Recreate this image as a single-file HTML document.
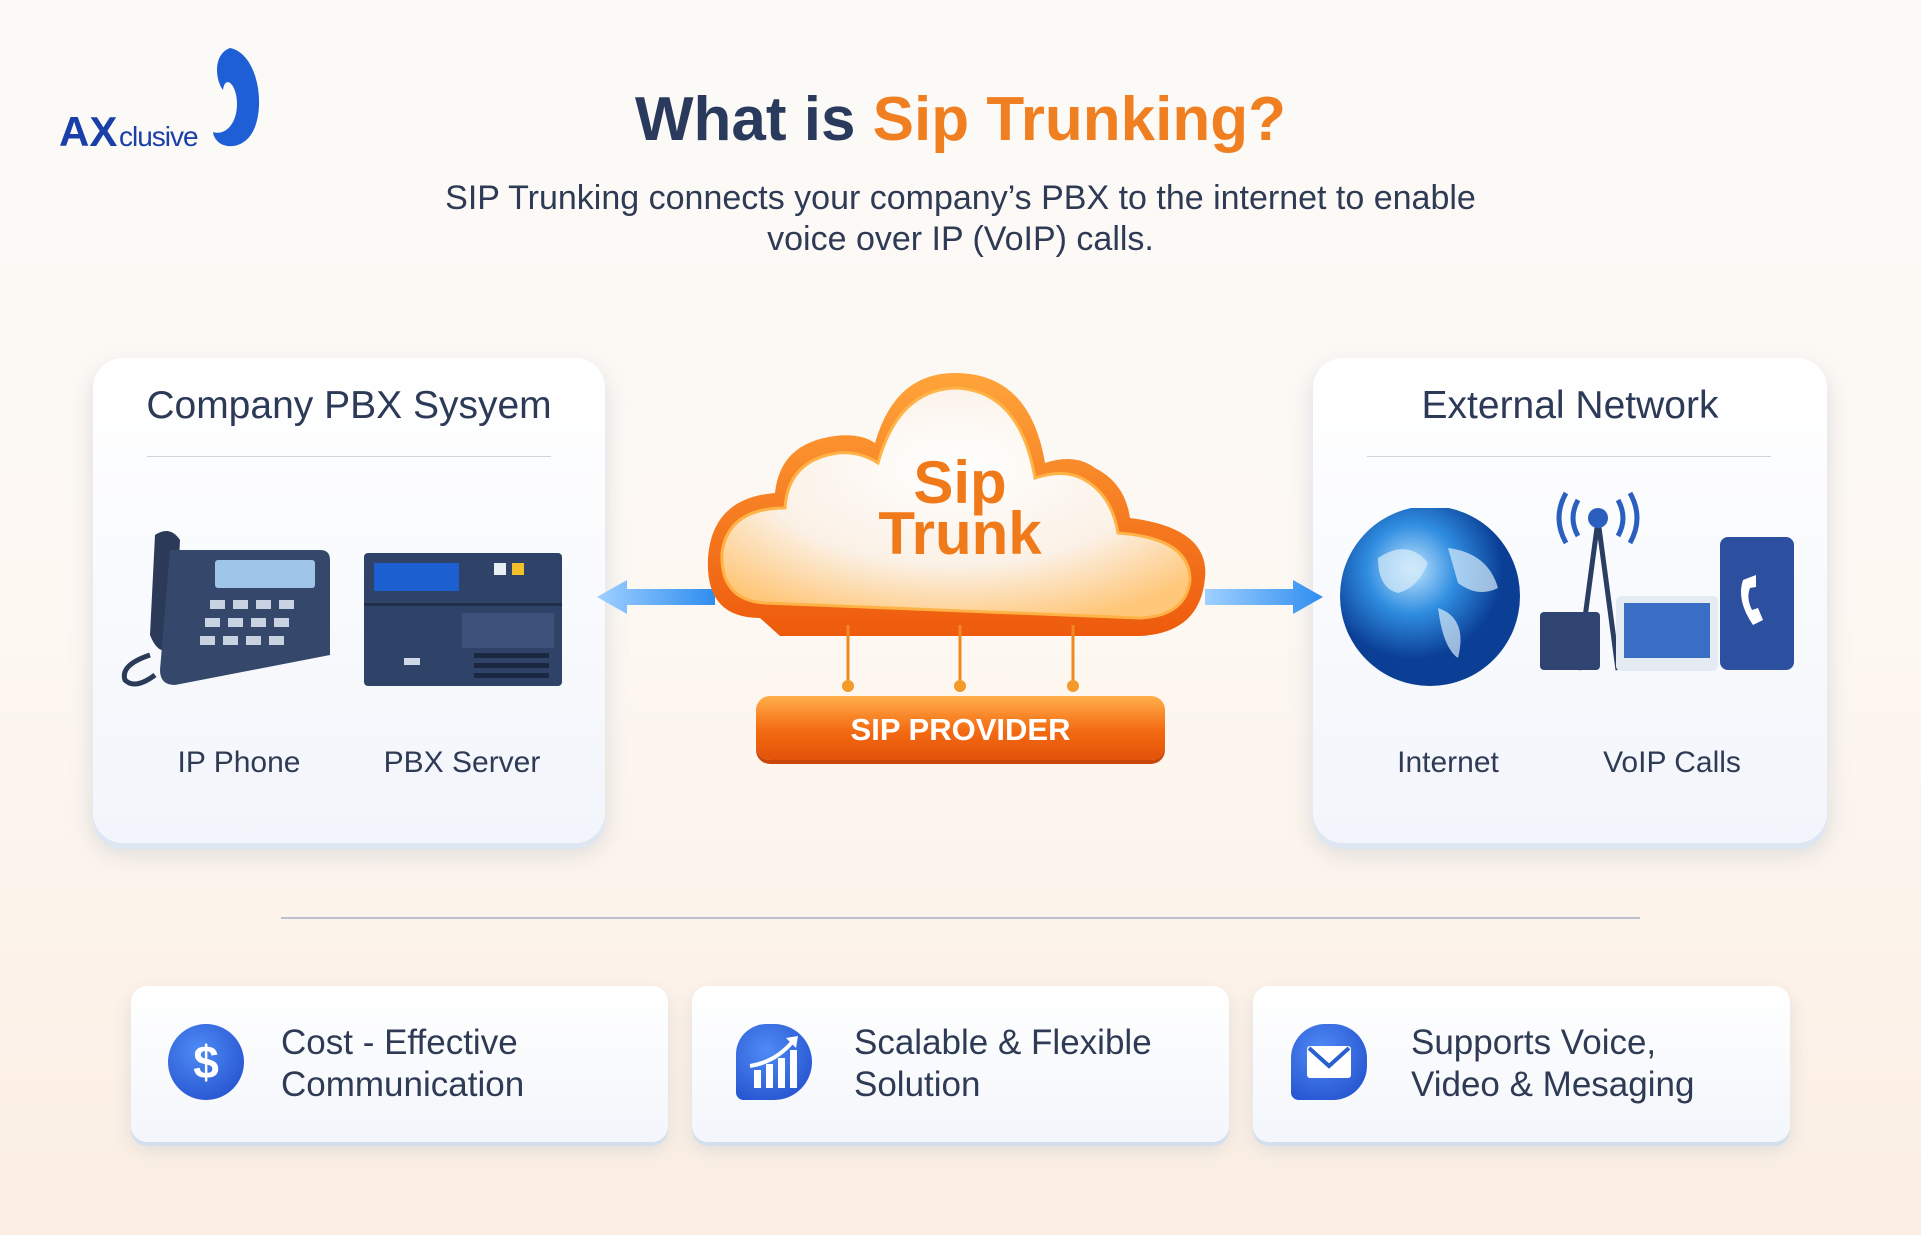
<!DOCTYPE html>
<html><head><meta charset="utf-8"><style>
*{margin:0;padding:0;box-sizing:border-box}
body{width:1921px;height:1235px;overflow:hidden;font-family:"Liberation Sans",sans-serif;background:linear-gradient(180deg,#fbfaf8 0%,#fdf8f2 50%,#fbeee3 100%);position:relative;color:#2a3550}
.abs{position:absolute}
.panel{position:absolute;background:linear-gradient(180deg,#ffffff,#f2f5fb);border-radius:30px;box-shadow:0 6px 0 #dde6f1,0 10px 24px rgba(120,140,170,.25)}
.ptitle{position:absolute;width:100%;text-align:center;top:26px;font-size:39px;color:#2c3a57}
.pdiv{position:absolute;height:1px;background:#cfd3da}
.lbl{position:absolute;font-size:30px;color:#2f3b55;transform:translateX(-50%);white-space:nowrap}
.card{position:absolute;top:986px;width:537px;height:156px;background:linear-gradient(180deg,#fff,#f3f6fb);border-radius:16px;box-shadow:0 4px 0 #d3e0ec,0 8px 18px rgba(120,140,170,.2)}
.ct{position:absolute;top:36px;font-size:35px;line-height:42px;color:#2f3b55}
.ic{position:absolute;top:38px;width:76px;height:76px;border-radius:50%;background:radial-gradient(circle at 40% 35%,#4f8bf5,#1d49c8);color:#fff;font-weight:bold;font-size:46px;text-align:center;line-height:76px}
</style></head><body>
<!-- logo -->
<svg class="abs" style="left:55px;top:44px" width="210" height="110">
<path d="M175 4 C205 10 212 70 195 92 C183 108 160 104 158 88 C170 92 182 80 182 60 C182 40 170 30 168 46 C160 36 158 10 175 4Z" fill="#1e5fd6"/>
<text x="4" y="102" font-family="Liberation Sans" font-weight="bold" font-size="42" fill="#1a3fa8">AX</text>
<text x="64" y="102" font-family="Liberation Sans" font-size="28" fill="#1a3fa8" letter-spacing="-1">clusive</text>
</svg>
<div class="abs" style="left:0;width:1921px;top:84px;text-align:center;font-size:62px;font-weight:bold;color:#2a3a5c">What is <span style="color:#f07f22">Sip Trunking?</span></div>
<div class="abs" style="left:0;width:1921px;top:178px;text-align:center;font-size:34px;line-height:41px;color:#2f3b55">SIP Trunking connects your company’s PBX to the internet to enable<br>voice over IP (VoIP) calls.</div>

<div class="panel" style="left:93px;top:358px;width:512px;height:485px">
<div class="ptitle">Company PBX Sysyem</div>
<div class="pdiv" style="left:54px;width:404px;top:98px"></div>
</div>
<div class="panel" style="left:1313px;top:358px;width:514px;height:485px">
<div class="ptitle">External Network</div>
<div class="pdiv" style="left:54px;width:404px;top:98px"></div>
</div>
<!-- phone -->
<svg class="abs" style="left:115px;top:525px" width="220" height="165">
<path d="M40 10 Q55 0 65 15 L60 120 Q45 135 35 110Z" fill="#2b3a58"/>
<path d="M55 25 L205 25 Q215 25 215 35 L215 130 L60 160 Q45 160 45 145Z" fill="#35476a"/>
<rect x="100" y="35" width="100" height="28" rx="3" fill="#9fc6e8"/>
<g fill="#c8d2e0"><rect x="95" y="75" width="15" height="9"/><rect x="118" y="75" width="15" height="9"/><rect x="141" y="75" width="15" height="9"/><rect x="164" y="75" width="15" height="9"/>
<rect x="90" y="93" width="15" height="9"/><rect x="113" y="93" width="15" height="9"/><rect x="136" y="93" width="15" height="9"/><rect x="159" y="93" width="15" height="9"/>
<rect x="85" y="111" width="15" height="9"/><rect x="108" y="111" width="15" height="9"/><rect x="131" y="111" width="15" height="9"/><rect x="154" y="111" width="15" height="9"/></g>
<path d="M35 130 Q5 140 10 155 Q20 165 40 150" stroke="#2b3a58" stroke-width="5" fill="none"/>
</svg>
<!-- server -->
<svg class="abs" style="left:364px;top:553px" width="200" height="135">
<rect x="0" y="0" width="198" height="133" rx="4" fill="#2f4268"/>
<rect x="10" y="10" width="85" height="28" fill="#1b5fd0"/>
<rect x="130" y="10" width="12" height="12" fill="#e8eef6"/><rect x="148" y="10" width="12" height="12" fill="#f2c12a"/>
<rect x="0" y="50" width="198" height="3" fill="#1f2e4a"/>
<rect x="98" y="60" width="92" height="35" fill="#3d527a"/>
<g fill="#1b2740"><rect x="110" y="100" width="75" height="5"/><rect x="110" y="110" width="75" height="5"/><rect x="110" y="120" width="75" height="5"/></g>
<rect x="40" y="105" width="16" height="7" fill="#cfd8e6"/>
</svg>
<!-- globe -->
<svg class="abs" style="left:1338px;top:508px" width="190" height="185">
<defs><radialGradient id="g" cx="40%" cy="35%"><stop offset="0" stop-color="#bfe4ff"/><stop offset=".5" stop-color="#2f8de0"/><stop offset="1" stop-color="#0b3f96"/></radialGradient></defs>
<circle cx="92" cy="88" r="90" fill="url(#g)"/>
<path d="M40 50 Q70 30 90 55 Q80 80 60 85 Q40 80 40 50Z M110 40 Q150 45 160 80 Q140 90 120 75Z M100 100 Q130 110 120 150 Q105 140 100 100Z" fill="#d9ecfa" opacity=".7"/>
</svg>
<!-- tower & devices -->
<svg class="abs" style="left:1538px;top:490px" width="260" height="195">
<path d="M40 180 L60 30 L80 180" stroke="#2a3d63" stroke-width="5" fill="none"/>
<circle cx="60" cy="28" r="10" fill="#2a5fc0"/>
<path d="M40 10 Q30 28 40 46 M80 10 Q90 28 80 46 M28 3 Q14 28 28 53 M92 3 Q106 28 92 53" stroke="#2a5fc0" stroke-width="5" fill="none"/>
<rect x="2" y="122" width="60" height="58" rx="4" fill="#2f4470"/>
<rect x="78" y="106" width="102" height="75" rx="5" fill="#e5ebf3"/><rect x="86" y="113" width="86" height="55" fill="#3a6dc4"/>
<rect x="182" y="47" width="74" height="133" rx="8" fill="#2c4fa0"/>
<path d="M205 90 Q198 110 215 135 L225 130 L220 118 L214 120 Q208 108 212 98 L218 97 L218 85Z" fill="#fff"/>
</svg>
<div class="lbl" style="left:239px;top:746px">IP Phone</div>
<div class="lbl" style="left:462px;top:746px">PBX Server</div>
<div class="lbl" style="left:1448px;top:746px">Internet</div>
<div class="lbl" style="left:1672px;top:746px">VoIP Calls</div>

<!-- arrows -->
<svg class="abs" style="left:590px;top:572px" width="740" height="55">
<defs><linearGradient id="ar" x1="0" x2="1"><stop offset="0" stop-color="#9fd0ff"/><stop offset="1" stop-color="#2f8df0"/></linearGradient></defs>
<path d="M7 25 L37 8 L37 17 L125 17 L125 33 L37 33 L37 42Z" fill="url(#ar)"/>
<path d="M733 25 L703 8 L703 17 L615 17 L615 33 L703 33 L703 42Z" fill="url(#ar)"/>
</svg>
<!-- cloud -->
<svg class="abs" style="left:700px;top:368px" width="520" height="290">
<defs><radialGradient id="cl" cx="50%" cy="35%" r="70%"><stop offset="0" stop-color="#ffffff"/><stop offset=".6" stop-color="#fbf1e6"/><stop offset="1" stop-color="#ffc77a"/></radialGradient>
<linearGradient id="cb" x1="0" y1="0" x2="0" y2="1"><stop offset="0" stop-color="#ffa43a"/><stop offset="1" stop-color="#ee5a0c"/></linearGradient></defs>
<path d="M60 250 Q5 250 8 190 Q12 130 75 125 Q80 75 135 68 Q160 65 175 75 Q195 5 255 5 Q330 5 345 95 Q375 85 395 100 Q425 115 430 150 Q510 160 505 210 Q500 265 440 268 L80 268Z" fill="url(#cb)"/>
<path d="M65 235 Q20 232 22 185 Q28 140 85 140 Q88 92 138 85 Q160 83 178 95 Q198 22 255 20 Q320 22 335 110 Q365 100 385 112 Q412 128 418 165 Q490 170 490 212 Q486 248 440 250 Z" fill="url(#cl)" stroke="#ffb347" stroke-width="3"/>
<text x="260" y="135" text-anchor="middle" font-family="Liberation Sans" font-weight="bold" font-size="60" fill="#f07a1a">Sip</text>
<text x="260" y="186" text-anchor="middle" font-family="Liberation Sans" font-weight="bold" font-size="60" fill="#f07a1a">Trunk</text>
</svg>
<svg class="abs" style="left:840px;top:625px" width="245" height="70">
<g stroke="#f08a20" stroke-width="3"><line x1="8" y1="0" x2="8" y2="60"/><line x1="120" y1="0" x2="120" y2="60"/><line x1="233" y1="0" x2="233" y2="60"/></g>
<g fill="#f39a2b"><circle cx="8" cy="61" r="6"/><circle cx="120" cy="61" r="6"/><circle cx="233" cy="61" r="6"/></g>
</svg>
<div class="abs" style="left:756px;top:696px;width:409px;height:64px;border-radius:14px;background:linear-gradient(180deg,#ffae4a,#f46a12 55%,#e25208);box-shadow:0 4px 0 #c9470a;color:#fff;font-weight:bold;font-size:31px;text-align:center;line-height:68px">SIP PROVIDER</div>

<div class="abs" style="left:281px;top:917px;width:1359px;height:2px;background:#bcbfd2"></div>

<div class="card" style="left:131px"><div class="ic" style="left:37px">$</div><div class="ct" style="left:150px">Cost - Effective<br>Communication</div></div>
<div class="card" style="left:692px"><div class="ic" style="left:44px;border-radius:40% 50% 50% 10%"><svg width="76" height="76"><g fill="#fff"><rect x="18" y="46" width="7" height="18"/><rect x="30" y="40" width="7" height="24"/><rect x="42" y="34" width="7" height="30"/><rect x="54" y="26" width="7" height="38"/></g><path d="M14 42 Q40 38 58 16" stroke="#fff" stroke-width="4" fill="none"/><path d="M50 14 L62 12 L60 24Z" fill="#fff"/></svg></div><div class="ct" style="left:162px">Scalable &amp; Flexible<br>Solution</div></div>
<div class="card" style="left:1253px"><div class="ic" style="left:38px;border-radius:45% 45% 45% 10%"><svg width="76" height="76"><rect x="16" y="22" width="44" height="32" rx="3" fill="#fff"/><path d="M18 24 L38 42 L58 24" stroke="#2a5fd0" stroke-width="4" fill="none"/></svg></div><div class="ct" style="left:158px">Supports Voice,<br>Video &amp; Mesaging</div></div>
</body></html>
